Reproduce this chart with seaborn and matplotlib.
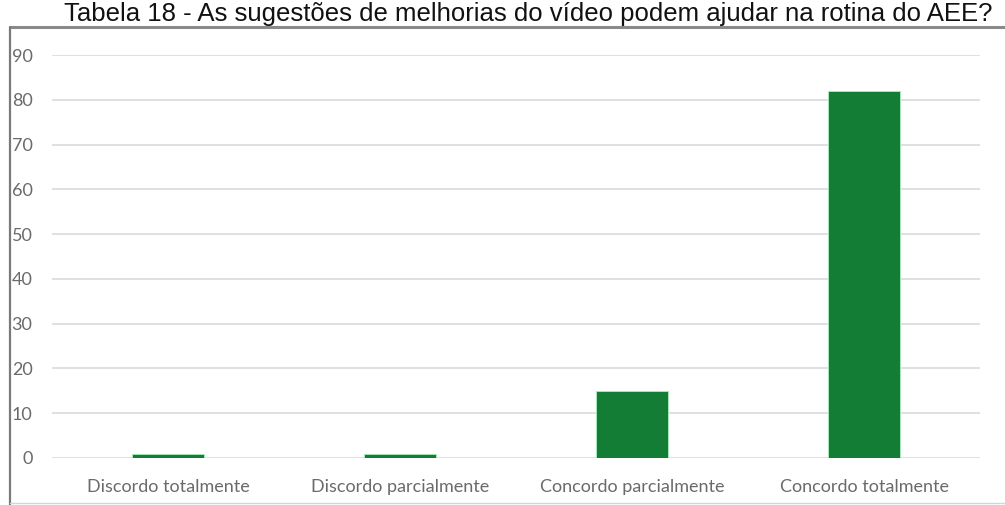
import matplotlib
matplotlib.use("Agg")
import matplotlib.pyplot as plt
from matplotlib.lines import Line2D
import seaborn as sns
import pandas as pd

# Survey answers and counts
categories = ["Discordo totalmente", "Discordo parcialmente",
              "Concordo parcialmente", "Concordo totalmente"]
counts = [1, 1, 15, 82]
y_ticks = [0, 10, 20, 30, 40, 50, 60, 70, 80, 90]
title = "Tabela 18 - As sugestões de melhorias do vídeo podem ajudar na rotina do AEE?"

df = pd.DataFrame({"resposta": categories, "total": counts})

sns.set_theme(style="white")
plt.rcParams["font.family"] = ["Lato", "DejaVu Sans"]

W, H = 1005, 505
fig = plt.figure(figsize=(W / 100, H / 100), dpi=100)
fig.patch.set_facecolor("white")

# Frame around the chart area
top = 27
fig.add_artist(Line2D([10 / W, 1.0], [1 - top / H, 1 - top / H], color="#8a8a8a", lw=2.2,
                      transform=fig.transFigure))
fig.add_artist(Line2D([10 / W, 10 / W], [0, 1 - top / H], color="#7a7a7a", lw=1.6,
                      transform=fig.transFigure))
fig.add_artist(Line2D([10 / W, 1.0], [2 / H, 2 / H], color="#d6d6d6", lw=1.0,
                      transform=fig.transFigure))

ax = fig.add_axes([52 / W, (H - 458) / H, 928 / W, 403 / H])
sns.barplot(data=df, x="resposta", y="total", ax=ax, color="#137d35",
            width=0.31, edgecolor="#a6e8b8", linewidth=0.7, saturation=1, zorder=3)

ax.set_xlim(-0.5, 3.5)
ax.set_ylim(0, 90)
ax.set_yticks(y_ticks)
ax.set_yticklabels([str(v) for v in y_ticks])
ax.grid(axis="y", color="#e0e0e0", linewidth=1.4, zorder=0)
ax.set_axisbelow(True)
for s in ax.spines.values():
    s.set_visible(False)
ax.set_xlabel("")
ax.set_ylabel("")
ax.tick_params(axis="y", length=0, pad=14, labelsize=13, labelcolor="#6a6a6a")
ax.tick_params(axis="x", length=0, pad=15, labelsize=13, labelcolor="#6a6a6a")
for lbl in ax.get_yticklabels():
    lbl.set_horizontalalignment("right")

# Title above the frame
fig.text(528 / W, 1 - 21 / H, title, ha="center", va="baseline",
         fontsize=18.5, family="Liberation Sans", color="#111111")

fig.savefig("out.png", dpi=100, facecolor="white")
